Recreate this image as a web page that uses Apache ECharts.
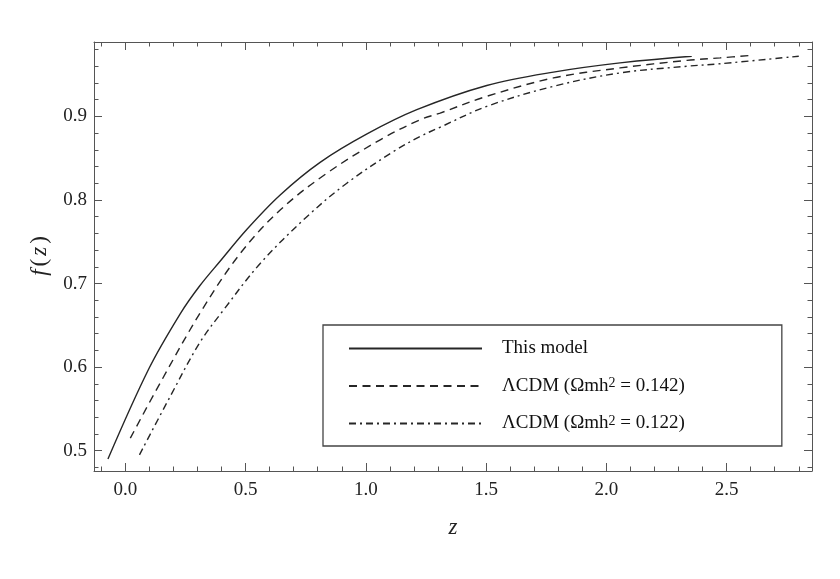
<!DOCTYPE html>
<html>
<head>
<meta charset="utf-8">
<script src="https://cdn.jsdelivr.net/npm/echarts@6/dist/echarts.min.js"></script>
<style>
  html, body { margin: 0; background: #fff; }
  #chart-container { width: 840px; height: 579px; }
</style>
</head>
<body>
<div id="chart-container"></div>
<script>
// curve readings (z, f)
var names = ["This model", "ΛCDM (Ωmh² = 0.142)", "ΛCDM (Ωmh² = 0.122)"];

var zModel = [-0.072, 0.098, 0.229, 0.309, 0.395, 0.506, 0.644, 0.810, 1.005, 1.212, 1.503, 1.780, 2.057, 2.355];
var fModel = [0.490, 0.598, 0.664, 0.697, 0.727, 0.765, 0.806, 0.845, 0.879, 0.908, 0.937, 0.953, 0.964, 0.972];

var z142 = [0.021, 0.145, 0.319, 0.478, 0.644, 0.838, 1.060, 1.226, 1.309, 1.503, 1.780, 2.057, 2.335, 2.473, 2.605];
var f142 = [0.515, 0.581, 0.6685, 0.736, 0.788, 0.832, 0.872, 0.896, 0.904, 0.924, 0.946, 0.958, 0.967, 0.970, 0.973];

var z122 = [0.059, 0.187, 0.309, 0.409, 0.561, 0.755, 0.921, 1.115, 1.226, 1.309, 1.503, 1.780, 2.057, 2.335, 2.473, 2.800];
var f122 = [0.495, 0.565, 0.629, 0.6685, 0.724, 0.780, 0.820, 0.858, 0.876, 0.887, 0.912, 0.936, 0.952, 0.960, 0.963, 0.972];

var xLabels = [0, 0.5, 1.0, 1.5, 2.0, 2.5];
var yLabels = [0.5, 0.6, 0.7, 0.8, 0.9];

var X_MIN = -0.13, X_MAX = 2.855;
var Y_MIN = 0.4757, Y_MAX = 0.989;

function minorTicks(from, to, step, majors) {
  var out = [];
  for (var v = from; v <= to + 1e-9; v += step) {
    var r = Math.round(v * 1000) / 1000;
    if (majors.indexOf(r) < 0) out.push(r);
  }
  return out;
}
var xMinor = minorTicks(-0.1, 2.8, 0.1, xLabels);
var yMinor = minorTicks(0.48, 0.98, 0.02, yLabels);

var FRAME = "#555";
var FONT = "Liberation Serif";

function pairs(xs, ys) {
  return xs.map(function (x, i) { return [x, ys[i]]; });
}

function axis(dim, grid, position, ticks, len, labels, showLine) {
  return {
    type: "value",
    gridIndex: grid,
    position: position,
    min: dim === "x" ? X_MIN : Y_MIN,
    max: dim === "x" ? X_MAX : Y_MAX,
    axisLine: { show: showLine, onZero: false, lineStyle: { color: FRAME, width: 1 } },
    axisTick: { show: true, inside: true, length: len, customValues: ticks, lineStyle: { color: FRAME, width: 1 } },
    axisLabel: {
      show: labels,
      customValues: ticks,
      margin: dim === "x" ? 10 : 7,
      color: "#222",
      fontFamily: FONT,
      fontSize: 19,
      formatter: function (v) { return v.toFixed(1); }
    },
    splitLine: { show: false }
  };
}

var xAxes = [
  axis("x", 0, "bottom", xLabels, 8, true, true),
  axis("x", 0, "top", xLabels, 8, false, true),
  axis("x", 1, "bottom", xMinor, 4.5, false, false),
  axis("x", 1, "top", xMinor, 4.5, false, false)
];
xAxes[0].name = "z";
xAxes[0].nameLocation = "middle";
xAxes[0].nameGap = 45;
xAxes[0].nameTextStyle = { fontFamily: FONT, fontStyle: "italic", fontSize: 23, color: "#222" };

var yAxes = [
  axis("y", 0, "left", yLabels, 8, true, true),
  axis("y", 0, "right", yLabels, 8, false, true),
  axis("y", 1, "left", yMinor, 4.5, false, false),
  axis("y", 1, "right", yMinor, 4.5, false, false)
];
yAxes[0].name = "{i|f}{n|(}{i|z}{n|)}";
yAxes[0].nameLocation = "middle";
yAxes[0].nameRotate = 90;
yAxes[0].nameGap = 43;
yAxes[0].nameTextStyle = {
  fontFamily: FONT, fontSize: 23, color: "#222",
  rich: {
    i: { fontFamily: FONT, fontStyle: "italic", fontSize: 23, color: "#222", padding: [0, 2, 0, 2] },
    n: { fontFamily: FONT, fontSize: 23, color: "#222", padding: [0, 1, 0, 1] }
  }
};

var gridBox = { left: 94, top: 42, right: 28, bottom: 108, containLabel: false, outerBoundsMode: "none" };

var lineTypes = ["solid", [8, 5.5], [7, 4, 2, 4]];
var curves = [pairs(zModel, fModel), pairs(z142, f142), pairs(z122, f122)];

var dom = document.getElementById("chart-container");
var myChart = echarts.init(dom, null, { renderer: "canvas" });

var option = {
  animation: false,
  backgroundColor: "#fff",
  grid: [Object.assign({}, gridBox), Object.assign({}, gridBox)],
  xAxis: xAxes,
  yAxis: yAxes,
  legend: {
    orient: "vertical",
    left: 323,
    top: 325,
    data: names,
    itemWidth: 133,
    itemHeight: 20,
    itemGap: 18.5,
    padding: [14, 97, 13, 25],
    borderColor: "#444",
    borderWidth: 1.3,
    backgroundColor: "#fff",
    selectedMode: false,
    itemStyle: { opacity: 0 },
    formatter: function (n) {
      return n.replace("²", "{sup|2}");
    },
    textStyle: {
      fontFamily: FONT,
      fontSize: 19,
      color: "#111",
      padding: [0, 0, 0, 15],
      rich: {
        sup: { fontFamily: FONT, fontSize: 14, color: "#111", verticalAlign: "top", lineHeight: 12 }
      }
    }
  },
  series: names.map(function (n, i) {
    return {
      name: n,
      type: "line",
      xAxisIndex: 0,
      yAxisIndex: 0,
      data: curves[i],
      smooth: 0.35,
      symbol: "none",
      lineStyle: { color: "#262626", width: 1.4, type: lineTypes[i] },
      itemStyle: { color: "#262626" }
    };
  })
};

myChart.setOption(option);
window.addEventListener("resize", myChart.resize);
</script>
</body>
</html>
